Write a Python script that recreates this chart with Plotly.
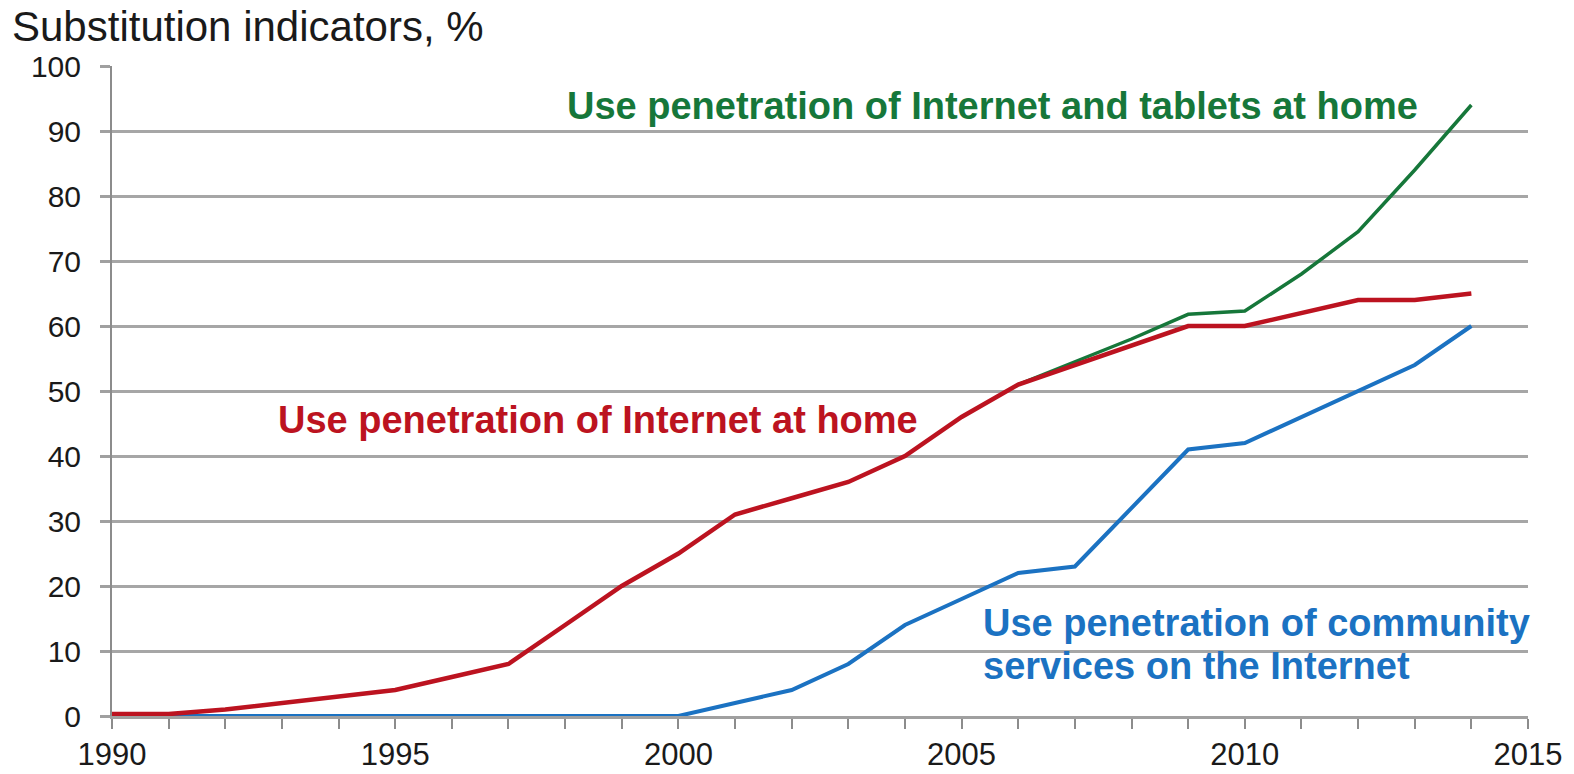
import plotly.graph_objects as go

years = list(range(1990, 2015))
internet_home = [0.3, 0.3, 1, 2, 3, 4, 6, 8, 14, 20, 25, 31, 33.5, 36, 40, 46, 51, 54, 57, 60, 60, 62, 64, 64, 65]
years_tablets = list(range(2006, 2015))
internet_tablets = [51, 54.5, 58, 61.8, 62.3, 68, 74.5, 84, 94]
community = [0, 0, 0, 0, 0, 0, 0, 0, 0, 0, 0, 2, 4, 8, 14, 18, 22, 23, 32, 41, 42, 46, 50, 54, 60]
x_ticks = [1990, 1995, 2000, 2005, 2010, 2015]

RED = "#BC1320"
GREEN = "#16773A"
BLUE = "#1B72C2"
FONT = "Liberation Sans, Arial, sans-serif"

W, H = 1574, 774
L, R, T, B = 112, 46, 66, 58

fig = go.Figure()
fig.add_trace(go.Scatter(x=years_tablets, y=internet_tablets, mode="lines",
                         line=dict(color=GREEN, width=3.5)))
fig.add_trace(go.Scatter(x=years, y=community, mode="lines",
                         line=dict(color=BLUE, width=4)))
fig.add_trace(go.Scatter(x=years, y=internet_home, mode="lines",
                         line=dict(color=RED, width=4.5)))

lab_font = lambda c: dict(family=FONT, size=38, color=c, weight="bold")
fig.add_annotation(x=1998.0, y=93.8, xref="x", yref="y", xanchor="left", yanchor="middle",
                   text="Use penetration of Internet and tablets at home", showarrow=False,
                   font=lab_font(GREEN))
fig.add_annotation(x=1992.9, y=45.5, xref="x", yref="y", xanchor="left", yanchor="middle",
                   text="Use penetration of Internet at home", showarrow=False,
                   font=lab_font(RED))
fig.add_annotation(x=2005.35, y=14.3, xref="x", yref="y", xanchor="left", yanchor="middle",
                   text="Use penetration of community", showarrow=False,
                   font=lab_font(BLUE))
fig.add_annotation(x=2005.35, y=7.7, xref="x", yref="y", xanchor="left", yanchor="middle",
                   text="services on the Internet", showarrow=False,
                   font=lab_font(BLUE))
# axis title at top-left (pixel position converted to paper coords)
fig.add_annotation(x=(10 - L) / (W - L - R), y=1 + (T - 27) / (H - T - B),
                   xref="paper", yref="paper", xanchor="left", yanchor="middle",
                   text="Substitution indicators, %", showarrow=False,
                   font=dict(family=FONT, size=42, color="#1a1a1a"))

fig.update_layout(
    width=W, height=H,
    margin=dict(l=L, r=R, t=T, b=B, autoexpand=False),
    paper_bgcolor="white", plot_bgcolor="white",
    showlegend=False,
    font=dict(family=FONT, size=30, color="#1a1a1a"),
)

fig.update_xaxes(range=[1990, 2015], tickvals=x_ticks, automargin=False,
                 ticks="outside", ticklen=10, tickcolor="#8c8c8c", tickwidth=2,
                 showgrid=False, showline=True, linecolor="#a0a0a0", linewidth=2.5,
                 minor=dict(dtick=1, tick0=1990, ticks="outside", ticklen=10,
                            tickcolor="#8c8c8c", tickwidth=2, showgrid=False),
                 zeroline=False, tickfont=dict(size=31), ticklabelstandoff=-1)
fig.update_yaxes(range=[0, 100], dtick=10, automargin=False,
                 ticks="outside", ticklen=10, tickcolor="#a0a0a0", tickwidth=2.5,
                 showgrid=True, gridcolor="#a6a6a6", gridwidth=2.5,
                 showline=True, linecolor="#8c8c8c", linewidth=2, zeroline=False,
                 tickfont=dict(size=30), ticklabelstandoff=13)

fig.write_html("out.html")
